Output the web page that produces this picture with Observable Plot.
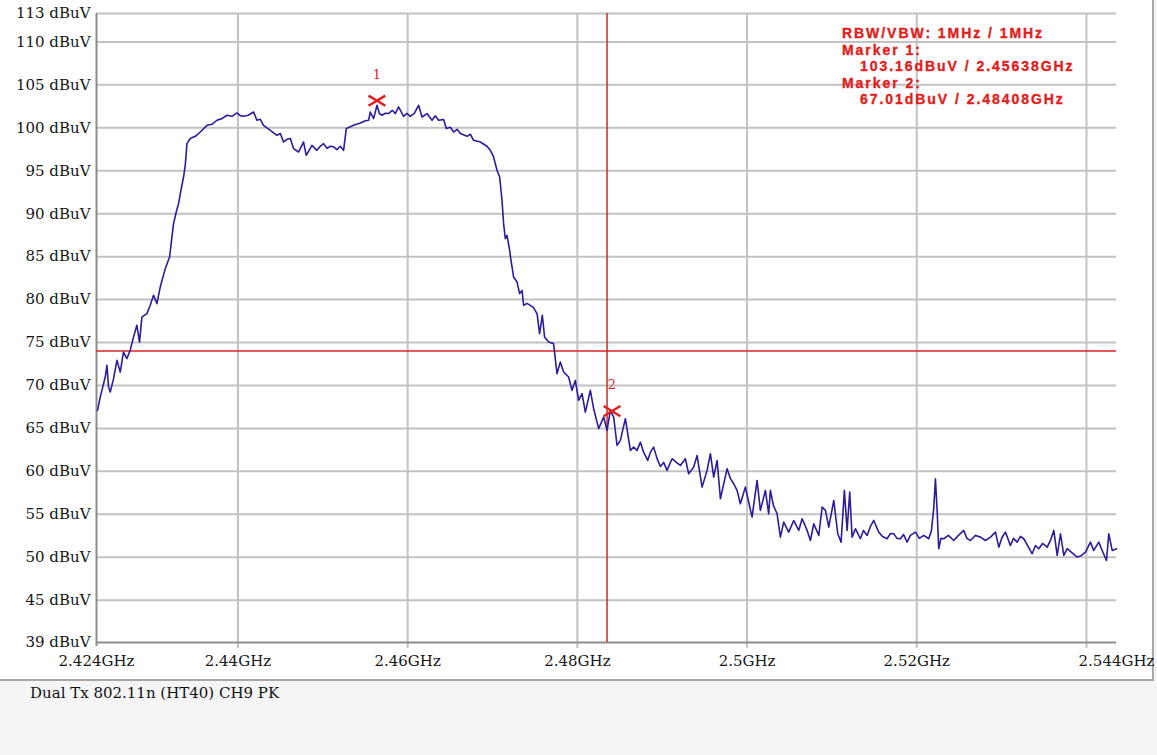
<!DOCTYPE html>
<html><head><meta charset="utf-8">
<script src="https://cdn.jsdelivr.net/npm/d3@7"></script>
<script src="https://cdn.jsdelivr.net/npm/@observablehq/plot@0.6"></script>
<style>
body{margin:0;background:#f5f5f5;}
#panel{position:relative;width:1152px;height:679px;background:#fff;border-right:2px solid #a8a8a8;border-bottom:2px solid #a8a8a8;}
#panel svg{overflow:visible;position:absolute;left:0;top:0;}
#info{position:absolute;left:842px;top:25px;font:bold 14px "Liberation Sans";letter-spacing:1.95px;color:#e21d1d;-webkit-text-stroke:0.35px #e21d1d;line-height:16.5px;white-space:pre;z-index:2;}
#info .ind{padding-left:18px;}
#caption{position:absolute;left:30px;top:684px;font:15px "DejaVu Serif";color:#111;}
</style></head><body>
<div id="panel"><div id="info"></div></div>
<div id="caption"></div>
<script>
const freqMHz = [
2423.45,2423.77,2423.97,2424.36,2424.56,2424.75,2424.95,2425.34,2425.74,2426.13,
2426.51,2426.91,2427.30,2427.69,2428.09,2428.40,2428.68,2429.27,2429.66,2430.05,
2430.45,2430.84,2431.43,2431.94,2432.22,2432.41,2432.73,2433.00,2433.28,2433.59,
2433.79,2433.99,2434.38,2434.97,2435.56,2436.35,2436.94,2437.52,2438.11,2438.70,
2439.29,2439.88,2440.27,2440.66,2441.21,2441.84,2442.24,2442.63,2443.02,2443.81,
2444.60,2444.99,2445.38,2445.78,2446.17,2446.55,2447.14,2447.73,2448.05,2448.72,
2449.31,2449.70,2450.09,2450.49,2450.88,2451.27,2451.67,2452.06,2452.45,2452.77,
2453.12,2453.63,2454.42,2455.01,2455.40,2455.60,2455.99,2456.39,2456.66,2456.98,
2457.37,2457.75,2458.19,2458.54,2458.93,2459.52,2459.92,2460.31,2460.78,2461.29,
2461.69,2462.28,2462.87,2463.26,2463.65,2464.24,2464.56,2465.03,2465.42,2465.82,
2466.21,2467.00,2467.39,2467.77,2468.56,2469.35,2469.74,2470.10,2470.53,2470.84,
2471.12,2471.31,2471.51,2471.71,2472.02,2472.18,2472.49,2472.89,2473.20,2473.48,
2473.67,2474.07,2474.46,2474.81,2475.25,2475.55,2475.87,2476.14,2476.61,2477.20,
2477.60,2477.99,2478.38,2478.97,2479.37,2479.76,2480.15,2480.55,2480.94,2481.53,
2481.92,2482.51,2483.10,2483.50,2483.89,2484.28,2484.68,2485.07,2485.66,2486.25,
2486.64,2487.04,2487.43,2487.82,2488.29,2488.60,2488.99,2489.39,2489.78,2490.17,
2490.57,2491.16,2491.67,2492.14,2492.73,2493.12,2493.71,2494.11,2494.70,2495.29,
2495.68,2496.07,2496.47,2496.86,2497.21,2497.65,2498.03,2498.42,2498.82,2499.21,
2499.80,2500.15,2500.59,2501.18,2501.57,2502.16,2502.55,2502.75,2503.10,2503.54,
2503.93,2504.32,2504.91,2505.50,2506.09,2506.49,2507.08,2507.47,2507.86,2508.45,
2508.85,2509.24,2509.63,2510.22,2510.69,2511.08,2511.47,2511.79,2512.10,2512.38,
2512.77,2513.36,2513.71,2514.15,2514.54,2514.93,2515.52,2515.96,2516.51,2516.90,
2517.29,2517.67,2518.08,2518.44,2518.86,2519.25,2519.84,2520.31,2520.82,2521.41,
2521.73,2522.00,2522.20,2522.40,2522.59,2522.85,2523.18,2523.73,2524.36,2524.91,
2525.54,2525.91,2526.33,2526.92,2527.51,2528.10,2528.69,2529.28,2529.67,2530.04,
2530.45,2531.04,2531.40,2531.83,2532.22,2532.61,2533.05,2533.60,2533.99,2534.38,
2534.82,2535.37,2535.76,2536.15,2536.55,2536.94,2537.33,2537.73,2538.24,2538.91,
2539.41,2539.89,2540.47,2540.86,2541.45,2541.85,2542.36,2542.63,2543.03,2543.54];
const level = [
67.10,68.65,69.43,70.98,72.34,69.81,69.23,70.79,72.92,71.56,
73.89,73.12,74.09,75.63,77.00,75.05,77.96,78.36,79.33,80.49,
79.53,81.46,83.60,84.95,87.28,88.84,90.20,91.17,92.72,94.27,
95.63,98.16,98.75,99.01,99.51,100.29,100.41,100.88,101.07,101.46,
101.34,101.73,101.42,101.34,101.46,101.84,100.88,100.99,100.29,99.71,
99.13,99.33,98.35,98.66,98.75,97.58,97.18,98.35,96.80,97.96,
97.38,97.85,98.16,97.61,97.85,97.79,97.46,97.85,97.38,99.91,
100.06,100.29,100.56,100.82,100.88,101.84,101.07,102.62,101.69,101.46,
101.69,101.66,102.04,101.66,102.43,101.34,101.69,101.34,101.69,102.62,
101.26,101.66,100.88,101.40,100.88,100.96,99.91,100.06,99.51,99.83,
99.33,99.01,99.25,98.55,98.35,97.85,97.38,96.68,95.05,94.27,
91.56,88.84,87.10,87.48,85.73,84.57,82.62,82.04,80.69,81.07,
79.33,79.56,79.33,79.09,78.36,76.03,78.16,75.63,75.05,74.87,
71.37,72.72,71.56,70.98,69.43,70.59,68.26,69.04,66.90,69.43,
67.29,64.97,66.32,64.77,67.10,66.32,63.02,63.60,66.13,62.44,
62.82,62.44,63.40,62.20,61.27,62.20,62.82,61.51,60.57,61.04,
60.11,61.47,61.04,60.69,61.47,59.72,60.49,61.85,58.16,60.11,
62.05,59.33,61.27,56.81,58.36,60.31,59.18,58.56,57.78,56.23,
58.16,56.61,54.67,58.94,55.45,57.78,55.06,57.78,56.03,55.06,
52.34,54.09,52.92,54.28,53.12,54.48,53.12,51.95,53.90,52.54,
55.83,55.45,53.50,56.61,52.73,51.76,57.78,53.12,57.58,52.34,
53.32,52.15,53.12,52.54,53.58,54.28,52.92,52.42,52.15,52.77,
52.73,52.19,52.15,52.65,51.76,52.54,52.92,52.19,52.54,52.15,
53.12,55.65,59.14,55.45,50.99,52.19,52.15,52.54,51.95,52.54,
53.12,52.19,51.95,52.54,52.34,51.95,52.34,52.92,51.17,52.30,
52.92,51.37,52.19,51.76,52.42,52.15,51.37,50.40,51.37,50.99,
51.60,51.17,51.95,53.12,50.21,52.73,50.21,50.99,50.56,50.01,
50.21,50.59,51.76,50.79,51.76,50.79,49.62,52.73,50.79,50.99];

const xDomain = [2.42333, 2.54354];
const yDomain = [40.07, 113.31];
const xGrid = [2.44, 2.46, 2.48, 2.50, 2.52, 2.54];
const xLabelTicks = [2.44, 2.46, 2.48, 2.50, 2.52];
const xEndLabels = ["2.424GHz", "2.544GHz"];
const yGrid = [45, 50, 55, 60, 65, 70, 75, 80, 85, 90, 95, 100, 105, 110];
const yEndLabels = ["39 dBuV", "113 dBuV"];
const limitLevel = 74;
const bandEdge = 2.4835;
const markerNames = ["1", "2"];
const markerFreq = [2.45638, 2.48408];
const markerLevel = [103.16, 67.01];
const rbwText = "RBW/VBW: 1MHz / 1MHz";
const captionText = "Dual Tx 802.11n (HT40) CH9 PK";

const trace = freqMHz.map((f, i) => ({f: f / 1000, v: level[i]}));
const markers = markerNames.map((n, i) => ({n, f: markerFreq[i], v: markerLevel[i]}));

const xTickPos = [xDomain[0], ...xLabelTicks, xDomain[1]];
const xLabelMap = new Map(xTickPos.map((d, i) =>
  [d, i === 0 ? xEndLabels[0] : i === xTickPos.length - 1 ? xEndLabels[1] : `${+d.toFixed(3)}GHz`]));
const yTickPos = [yDomain[0], ...yGrid, yDomain[1]];
const yLabelMap = new Map(yTickPos.map((d, i) =>
  [d, i === 0 ? yEndLabels[0] : i === yTickPos.length - 1 ? yEndLabels[1] : `${d} dBuV`]));

const wideX = {draw(ctx, size) {
  const r = Math.sqrt(size / Math.PI), a = 1.4 * r, b = 0.85 * r;
  ctx.moveTo(-a, -b); ctx.lineTo(a, b); ctx.moveTo(-a, b); ctx.lineTo(a, -b);
}};

const grid = "#c2c2c2";
const red = "#dc2424";
const chart = Plot.plot({
  width: 1152, height: 680,
  marginLeft: 96, marginRight: 36, marginTop: 13, marginBottom: 38,
  x: {domain: xDomain, label: null},
  y: {domain: yDomain, label: null},
  style: {fontFamily: "DejaVu Serif", fontSize: "15px", color: "#151515", background: "transparent", overflow: "visible"},
  marks: [
    Plot.ruleY(yGrid, {stroke: grid, strokeWidth: 2}),
    Plot.ruleY([yDomain[1]], {stroke: grid, strokeWidth: 2}),
    Plot.ruleX(xGrid, {stroke: grid, strokeWidth: 2, insetBottom: -6}),
    Plot.ruleY([yDomain[0]], {stroke: "#8c8c8c", strokeWidth: 2}),
    Plot.ruleX([xDomain[0]], {stroke: "#8c8c8c", strokeWidth: 2, insetBottom: -4}),
    Plot.ruleY([limitLevel], {stroke: red, strokeWidth: 1.5}),
    Plot.ruleX([bandEdge], {stroke: red, strokeWidth: 1.5}),
    Plot.line(trace, {x: "f", y: "v", stroke: "#2c1c9c", strokeWidth: 1.6}),
    Plot.dot(markers, {x: "f", y: "v", symbol: wideX, r: 6, stroke: "#e02020", strokeWidth: 2.5}),
    Plot.text(markers, {x: "f", y: "v", text: "n", dy: -26, fill: "#d03030", fontSize: 13}),
    Plot.axisY(yTickPos, {tickSize: 0, tickPadding: 6, tickFormat: d => yLabelMap.get(d), label: null}),
    Plot.axisX(xTickPos, {tickSize: 0, tickPadding: 13, tickFormat: d => xLabelMap.get(d), label: null})
  ]
});
document.getElementById("panel").appendChild(chart);

const info = document.getElementById("info");
const lines = [[rbwText, false]];
markers.forEach(m => {
  lines.push([`Marker ${m.n}:`, false]);
  lines.push([`${m.v.toFixed(2)}dBuV / ${m.f.toFixed(5)}GHz`, true]);
});
lines.forEach(([t, ind]) => {
  const d = document.createElement("div");
  d.textContent = t;
  if (ind) d.className = "ind";
  info.appendChild(d);
});
document.getElementById("caption").textContent = captionText;
</script>
</body></html>
